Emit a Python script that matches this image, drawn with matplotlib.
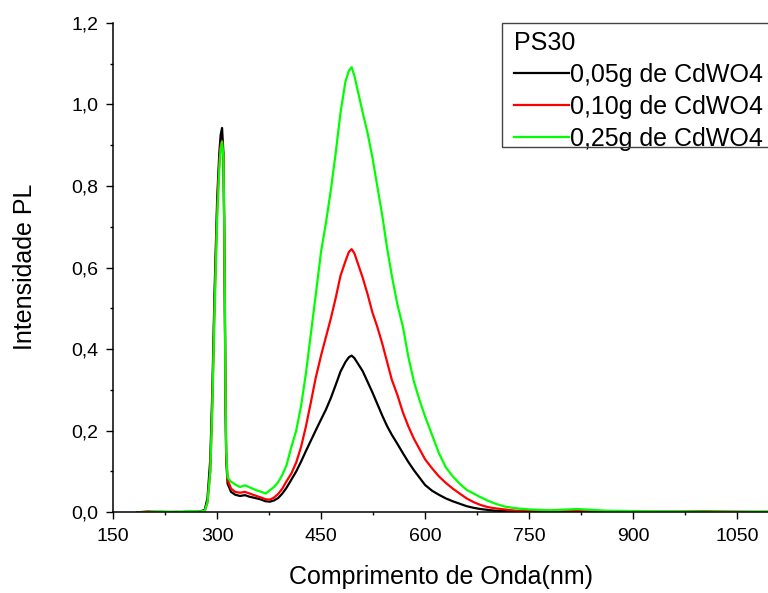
import matplotlib
matplotlib.use("Agg")
import matplotlib.pyplot as plt
from matplotlib.patches import Rectangle
from matplotlib.ticker import MultipleLocator, FuncFormatter

plt.rcParams['font.family'] = ['Liberation Sans', 'DejaVu Sans']

# wavelength grid (nm)
wavelength = [185, 200, 220, 240, 260, 275, 282, 286, 290, 293, 296, 300, 303, 305, 307,
              309, 310, 311, 312, 313, 315, 320, 326, 333, 340, 347, 355, 362, 370, 376,
              382, 388, 394, 400, 407, 414, 421, 428, 435, 442, 450, 457, 464, 471, 478,
              485, 490, 494, 498, 504, 510, 517, 524, 531, 538, 545, 552, 560, 568, 576,
              584, 592, 600, 610, 620, 630, 640, 650, 660, 670, 680, 690, 700, 715, 730,
              750, 780, 820, 860, 900, 950, 1000, 1050, 1100]

pl_005 = [0.0, 0.001, 0.0, 0.001, 0.0, 0.002, 0.006, 0.035, 0.13, 0.30, 0.53, 0.77, 0.88, 0.925, 0.942,
          0.88, 0.72, 0.50, 0.26, 0.13, 0.07, 0.05, 0.043, 0.040, 0.042, 0.038, 0.035, 0.032, 0.027, 0.026,
          0.029, 0.035, 0.046, 0.060, 0.080, 0.100, 0.124, 0.150, 0.175, 0.200, 0.228, 0.252, 0.280, 0.312, 0.345,
          0.368, 0.380, 0.384, 0.378, 0.362, 0.346, 0.320, 0.294, 0.266, 0.238, 0.212, 0.190, 0.168, 0.145, 0.123,
          0.103, 0.085, 0.067, 0.053, 0.043, 0.034, 0.027, 0.021, 0.015, 0.011, 0.008, 0.006, 0.004, 0.003, 0.002,
          0.001, 0.001, 0.0, 0.001, 0.0, 0.001, 0.0, 0.001, 0.0]

pl_010 = [0.0, 0.002, 0.001, 0.0, 0.001, 0.001, 0.003, 0.025, 0.10, 0.27, 0.50, 0.75, 0.86, 0.90, 0.91,
          0.87, 0.72, 0.52, 0.28, 0.14, 0.08, 0.058, 0.050, 0.048, 0.050, 0.046, 0.041, 0.037, 0.032, 0.031,
          0.036, 0.045, 0.058, 0.076, 0.095, 0.122, 0.160, 0.210, 0.268, 0.328, 0.385, 0.430, 0.475, 0.525, 0.580,
          0.615, 0.638, 0.645, 0.635, 0.605, 0.575, 0.535, 0.490, 0.455, 0.415, 0.370, 0.325, 0.288, 0.245, 0.210,
          0.180, 0.155, 0.130, 0.108, 0.088, 0.072, 0.058, 0.046, 0.034, 0.025, 0.018, 0.013, 0.010, 0.007, 0.004,
          0.003, 0.002, 0.003, 0.001, 0.002, 0.001, 0.003, 0.001, 0.001]

pl_025 = [0.0, 0.001, 0.002, 0.001, 0.003, 0.002, 0.004, 0.025, 0.10, 0.26, 0.48, 0.72, 0.84, 0.89, 0.908,
          0.87, 0.73, 0.53, 0.30, 0.15, 0.085, 0.075, 0.068, 0.062, 0.066, 0.061, 0.055, 0.051, 0.046, 0.054,
          0.062, 0.074, 0.092, 0.115, 0.160, 0.200, 0.260, 0.340, 0.435, 0.530, 0.640, 0.710, 0.790, 0.880, 0.980,
          1.055, 1.082, 1.091, 1.070, 1.025, 0.980, 0.930, 0.870, 0.800, 0.730, 0.650, 0.580, 0.510, 0.455, 0.380,
          0.320, 0.275, 0.235, 0.190, 0.145, 0.110, 0.088, 0.070, 0.055, 0.046, 0.037, 0.029, 0.022, 0.014, 0.010,
          0.007, 0.005, 0.008, 0.004, 0.003, 0.002, 0.002, 0.001, 0.002]

labels = ['0,05g de CdWO4', '0,10g de CdWO4', '0,25g de CdWO4']
colors = ['#000000', '#ff0000', '#00ff00']

fig = plt.figure(figsize=(7.68, 5.93), dpi=100)
ax = fig.add_axes([0.1475, 0.1361, 0.8525, 0.8256])

for y, lab, c in zip([pl_005, pl_010, pl_025], labels, colors):
    ax.plot(wavelength, y, color=c, lw=1.6, label=lab)

ax.set_xlim(150, 1095)
ax.set_ylim(0, 1.2)
ax.xaxis.set_major_locator(MultipleLocator(150))
ax.xaxis.set_minor_locator(MultipleLocator(75))
ax.yaxis.set_major_locator(MultipleLocator(0.2))
ax.yaxis.set_minor_locator(MultipleLocator(0.1))
ax.yaxis.set_major_formatter(FuncFormatter(lambda v, p: ('%.1f' % v).replace('.', ',')))

for s in ['top', 'right']:
    ax.spines[s].set_visible(False)
for s in ['left', 'bottom']:
    ax.spines[s].set_linewidth(1.1)
ax.tick_params(which='major', direction='out', length=5, width=1.0, labelsize=14, pad=6)
ax.tick_params(which='minor', direction='out', length=2.5, width=1.0)

ax.set_xlabel('Comprimento de Onda(nm)', fontsize=18)
ax.set_ylabel('Intensidade PL', fontsize=18)
ax.xaxis.set_label_coords(0.501, -0.108)
ax.yaxis.set_label_coords(-0.1166, 0.502)

# legend without its own frame; box drawn separately (it runs off the right edge)
leg = ax.legend(title='PS30', loc='upper left', bbox_to_anchor=(0.597, 1.004),
                fontsize=18, title_fontsize=18, alignment='left',
                frameon=False, borderaxespad=0, borderpad=0.4,
                handlelength=2.2, handletextpad=0.05, labelspacing=0.32)
fig.patches.append(Rectangle((0.6533, 0.7526), 0.362, 0.2091, transform=fig.transFigure,
                             fill=False, edgecolor='#444444', linewidth=1.0, clip_on=False))

fig.savefig('out.png', dpi=100)
